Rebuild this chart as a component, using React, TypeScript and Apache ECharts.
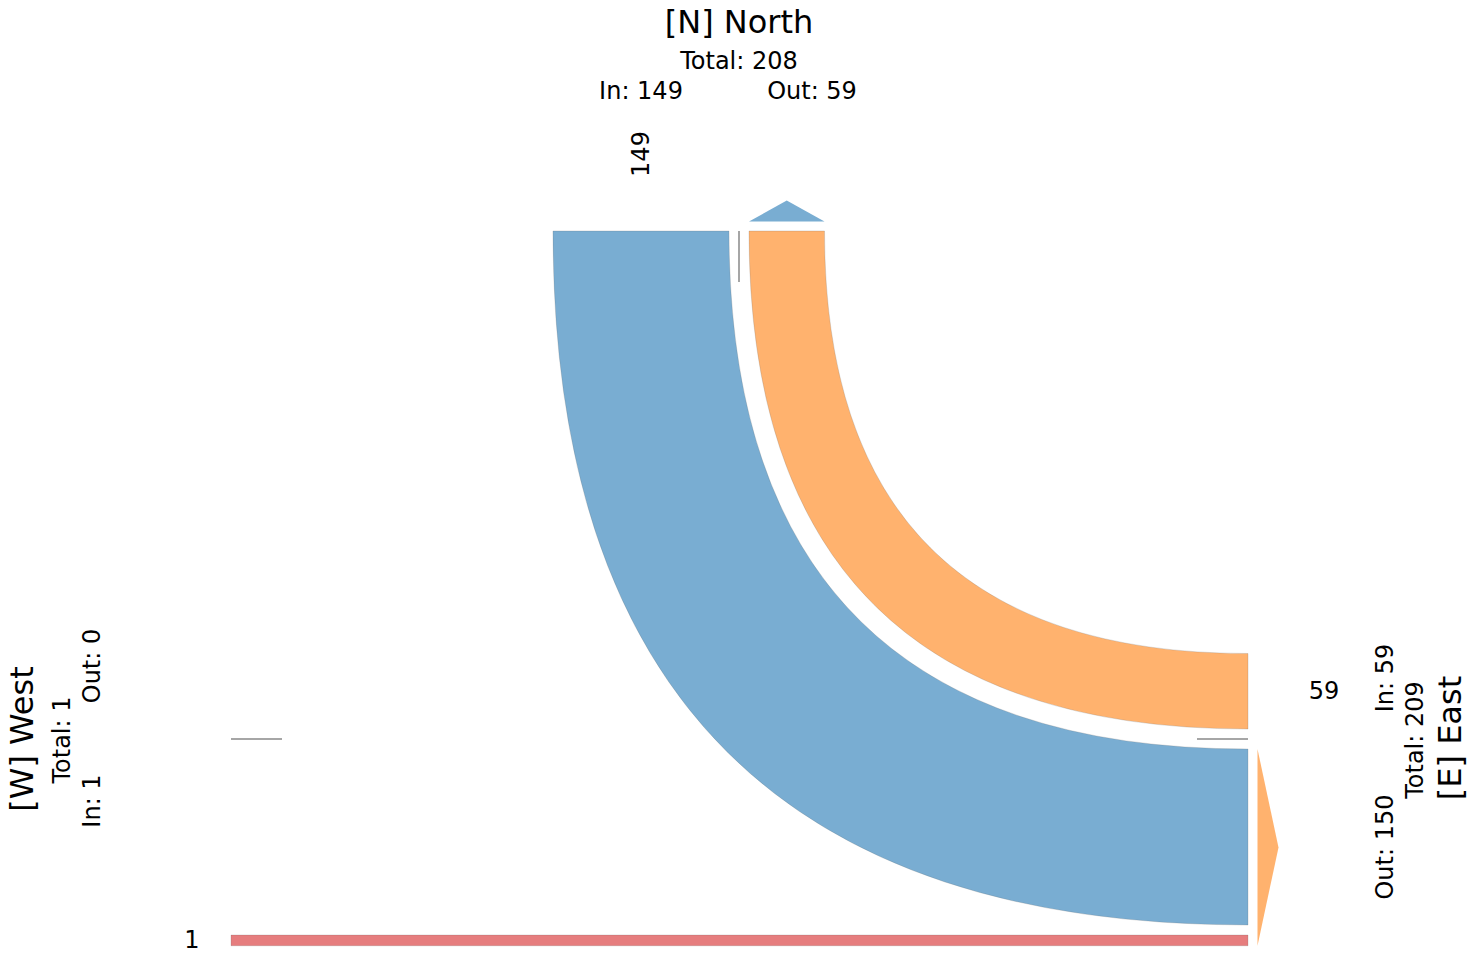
import React, { useEffect, useRef } from "react";
import * as echarts from "echarts";

// ---- data ----
const nodeIds = ["N", "E", "W"];
const nodeNames = ["[N] North", "[E] East", "[W] West"];
const nodeColors = ["#79add2", "#ffb26e", "#e67d7e"];
const flowFrom = ["E", "N", "E"];
const flowTo = ["N", "E", "W"];
const flowValues = [149, 59, 1];

// ---- layout constants ----
const CW = 1483;
const CH = 956;
const FONT = "DejaVu Sans";
const GAP = 10;
const BASE_W = 9.6;
const PER_UNIT = 1.117;
const TICK_LEN = 51;
const ARROW_OFF = 9.5;
const ARROW_H = 21;

type Side = "top" | "right" | "left";
const nodeSide: Record<string, { side: Side; edge: number; tick: number }> = {
  N: { side: "top", edge: 231, tick: 739 },
  E: { side: "right", edge: 1248, tick: 739 },
  W: { side: "left", edge: 231, tick: 739 },
};

// label positions per node: [x, y] for name, total, in, out ; rotation
const nodeLabelPos: Record<string, { rot: number; name: number[]; total: number[]; inn: number[]; out: number[] }> = {
  N: { rot: 0, name: [739, 22], total: [739, 61], inn: [641, 91], out: [812, 91] },
  E: { rot: Math.PI / 2, name: [1450, 738], total: [1415, 740], inn: [1385, 678], out: [1385, 847] },
  W: { rot: Math.PI / 2, name: [22, 739], total: [62, 740], inn: [92, 801], out: [92, 666] },
};
const valueLabelOffset: Record<Side, number> = { top: 77, right: 76, left: 39 };

const flowWidth = (v: number) => BASE_W + PER_UNIT * v;

function computeLayout() {
  const slots: Record<string, { inn: Record<number, number[]>; out: Record<number, number[]> }> = {};
  nodeIds.forEach((id) => {
    const s = nodeSide[id];
    const ins = flowTo.map((t, i) => (t === id ? i : -1)).filter((i) => i >= 0);
    const outs = flowFrom.map((f, i) => (f === id ? i : -1)).filter((i) => i >= 0);
    const inn: Record<number, number[]> = {};
    const out: Record<number, number[]> = {};
    let pos = s.tick - GAP;
    ins.forEach((fi) => {
      const w = flowWidth(flowValues[fi]);
      inn[fi] = [pos - w, pos];
      pos = pos - w - GAP;
    });
    pos = s.tick + GAP;
    outs.forEach((fi) => {
      const w = flowWidth(flowValues[fi]);
      out[fi] = [pos, pos + w];
      pos = pos + w + GAP;
    });
    slots[id] = { inn, out };
  });
  return slots;
}

export default function App() {
  const ref = useRef<HTMLDivElement>(null);

  useEffect(() => {
    document.body.style.margin = "0";
    document.body.style.overflow = "hidden";
    if (!ref.current) return;
    const chart = echarts.init(ref.current, null, { renderer: "svg" });
    const slots = computeLayout();

    const colorOf = (id: string) => nodeColors[nodeIds.indexOf(id)];

    // ribbons
    const ribbonSeries = {
      type: "custom",
      coordinateSystem: "cartesian2d",
      clip: false,
      silent: true,
      data: flowValues.map((v, i) => [i, v]),
      renderItem: (params: any, api: any) => {
        const i = params.dataIndex;
        const src = flowFrom[i];
        const dst = flowTo[i];
        const sS = nodeSide[src];
        const dS = nodeSide[dst];
        const sR = slots[src].out[i];
        const dR = slots[dst].inn[i];
        const c = (x: number, y: number) => {
          const p = api.coord([x, y]);
          return p[0].toFixed(2) + " " + p[1].toFixed(2);
        };
        let d = "";
        const sides = [sS.side, dS.side];
        if (sides.includes("top") && sides.includes("right")) {
          const top = sS.side === "top" ? sS : dS;
          const right = sS.side === "right" ? sS : dS;
          const a = sS.side === "top" ? sR : dR;
          const b = sS.side === "right" ? sR : dR;
          const yT = top.edge;
          const xR = right.edge;
          d =
            "M" + c(a[0], yT) +
            " Q" + c(a[0], b[1]) + " " + c(xR, b[1]) +
            " L" + c(xR, b[0]) +
            " Q" + c(a[1], b[0]) + " " + c(a[1], yT) + " Z";
        } else {
          // straight horizontal flow between opposite sides, at source position
          const x1 = sS.edge;
          const x2 = dS.edge;
          d =
            "M" + c(x1, sR[0]) + " L" + c(x2, sR[0]) + " L" + c(x2, sR[1]) + " L" + c(x1, sR[1]) + " Z";
        }
        return {
          type: "path",
          shape: { pathData: d },
          style: { fill: colorOf(dst), stroke: "rgba(100,100,100,0.35)", lineWidth: 0.6 },
        };
      },
      z: 2,
    };

    // arrows over outgoing flows
    const arrowNodes = nodeIds.filter((id) => Object.keys(slots[id].out).length > 0);
    const arrowSeries = {
      type: "custom",
      coordinateSystem: "cartesian2d",
      clip: false,
      silent: true,
      data: arrowNodes.map((id, k) => [k, 0]),
      renderItem: (params: any, api: any) => {
        const id = arrowNodes[params.dataIndex];
        const s = nodeSide[id];
        const ranges = Object.values(slots[id].out);
        const lo = Math.min(...ranges.map((r) => r[0]));
        const hi = Math.max(...ranges.map((r) => r[1]));
        const mid = (lo + hi) / 2;
        let pts: number[][];
        if (s.side === "top") {
          const yb = s.edge - ARROW_OFF;
          pts = [[lo, yb], [hi, yb], [mid, yb - ARROW_H]];
        } else if (s.side === "right") {
          const xb = s.edge + ARROW_OFF;
          pts = [[xb, lo], [xb, hi], [xb + ARROW_H, mid]];
        } else {
          const xb = s.edge - ARROW_OFF;
          pts = [[xb, lo], [xb, hi], [xb - ARROW_H, mid]];
        }
        return {
          type: "polygon",
          shape: { points: pts.map((p) => api.coord(p)) },
          style: { fill: colorOf(id) },
        };
      },
      z: 2,
    };

    // separator ticks
    const tickSeries = {
      type: "custom",
      coordinateSystem: "cartesian2d",
      clip: false,
      silent: true,
      data: nodeIds.map((id, k) => [k, 0]),
      renderItem: (params: any, api: any) => {
        const s = nodeSide[nodeIds[params.dataIndex]];
        let p1: number[], p2: number[];
        if (s.side === "top") {
          p1 = [s.tick, s.edge];
          p2 = [s.tick, s.edge + TICK_LEN];
        } else if (s.side === "right") {
          p1 = [s.edge, s.tick];
          p2 = [s.edge - TICK_LEN, s.tick];
        } else {
          p1 = [s.edge, s.tick];
          p2 = [s.edge + TICK_LEN, s.tick];
        }
        const a = api.coord(p1);
        const b = api.coord(p2);
        return {
          type: "line",
          shape: { x1: a[0], y1: a[1], x2: b[0], y2: b[1] },
          style: { stroke: "#a6a6a6", lineWidth: 2 },
        };
      },
      z: 3,
    };

    // texts
    const texts: any[] = [];
    const txt = (x: number, y: number, text: string, size: number, rot = 0) =>
      texts.push({
        type: "text",
        x,
        y,
        rotation: rot,
        silent: true,
        style: {
          text,
          fontSize: size,
          fontFamily: FONT,
          fill: "#000",
          align: "center",
          verticalAlign: "middle",
        },
      });

    nodeIds.forEach((id, k) => {
      const inSum = flowValues.reduce((s, v, i) => s + (flowTo[i] === id ? v : 0), 0);
      const outSum = flowValues.reduce((s, v, i) => s + (flowFrom[i] === id ? v : 0), 0);
      const L = nodeLabelPos[id];
      txt(L.name[0], L.name[1], nodeNames[k], 32, L.rot);
      txt(L.total[0], L.total[1], "Total: " + (inSum + outSum), 24, L.rot);
      txt(L.inn[0], L.inn[1], "In: " + inSum, 24, L.rot);
      txt(L.out[0], L.out[1], "Out: " + outSum, 24, L.rot);
    });

    flowValues.forEach((v, i) => {
      const dst = flowTo[i];
      const src = flowFrom[i];
      const dS = nodeSide[dst];
      const sS = nodeSide[src];
      const straight = !(
        [sS.side, dS.side].includes("top") && [sS.side, dS.side].includes("right")
      );
      const r = straight ? slots[src].out[i] : slots[dst].inn[i];
      const mid = (r[0] + r[1]) / 2;
      const off = valueLabelOffset[dS.side];
      if (dS.side === "top") txt(mid, dS.edge - off, String(v), 24, Math.PI / 2);
      else if (dS.side === "right") txt(dS.edge + off, mid, String(v), 24);
      else txt(dS.edge - off, mid, String(v), 24);
    });

    chart.setOption({
      animation: false,
      backgroundColor: "#ffffff",
      grid: { left: 0, right: 0, top: 0, bottom: 0, containLabel: false },
      xAxis: { type: "value", min: 0, max: CW, show: false },
      yAxis: { type: "value", min: 0, max: CH, inverse: true, show: false },
      series: [ribbonSeries, arrowSeries, tickSeries],
      graphic: texts,
    });

    return () => chart.dispose();
  }, []);

  return <div ref={ref} style={{ width: CW, height: CH }} />;
}
